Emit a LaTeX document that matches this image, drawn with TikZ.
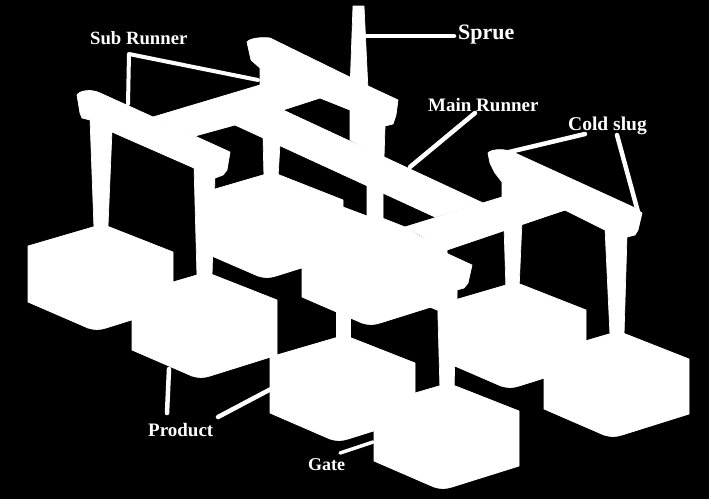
\documentclass[tikz,border=0pt]{standalone}
\usepackage{fontspec}
\setmainfont{Liberation Serif}
\tikzset{
  part/.style={fill=white,draw=white,line width=0.7pt,line join=round},
  leader/.style={draw=white,line width=4.5pt,line cap=round},
  lab/.style={text=white,anchor=base west,inner sep=0pt,font=\bfseries\fontsize{#1}{#1}\selectfont},
}
\newcommand{\prodblock}[2]{%
  \path[part,shift={(#1,#2)}] (0,-56) -- (65,-75) .. controls (72,-77) and (78,-77) .. (84,-74) -- (145,-50) -- (145,5) -- (78,26) .. controls (72,28) and (66,28) .. (60,26) -- (0,0) -- cycle;}
\begin{document}
\begin{tikzpicture}[x=1pt,y=-1pt]
\fill[black] (0,0) rectangle (709,499);
\useasboundingbox (0,0) rectangle (709,499);
% product blocks
\prodblock{28}{302}
\prodblock{132}{350}
\prodblock{198}{250}
\prodblock{302}{297}
\prodblock{270}{413}
\prodblock{374}{461}
\prodblock{441}{360}
\prodblock{544}{409}
% sprue
\path[part] (353,6) -- (364,6) -- (368,90) -- (350,90) -- cycle;
% upper sub runner
\path[part] (247,42) .. controls (250,38) and (262,37) .. (270,38) -- (368,86) -- (398,100) -- (396,115) -- (393,124) -- (385,126) -- (384,158) -- (350,140) -- (350,110) -- (320,98) -- (283,110) -- (260,85) -- (260,68) -- (251,60) -- cycle;
% left sub runner
\path[part] (77,95) .. controls (80,90) and (92,89) .. (100,93) -- (153,117) -- (230,152) -- (227,170) -- (223,175) -- (215,178) -- (194,168) -- (112,132) -- (90,120) -- (82,118) -- (80,113) -- cycle;
% cross bars and main runner
\path[part] (153,117) -- (260,85) -- (283,110) -- (235,125) -- (195,136) -- cycle;
\path[part] (235,125) -- (283,110) -- (483,203) -- (435,217) -- cycle;
\path[part] (405,227) -- (502,197) -- (565,210) -- (447,250) -- cycle;
% front sub runner
\path[part] (343,207) -- (367,216) -- (367,225) -- (448,254) -- (472,265) -- (468,283) -- (464,288) -- (457,290) -- (457,305) -- (437,310) -- (343,270) -- cycle;
\path[part] (382,218) -- (405,227) -- (448,254) -- (382,240) -- cycle;
% right sub runner
\path[part] (488,153) .. controls (491,149) and (505,148) .. (515,153) -- (633,207) -- (642,213) -- (638,230) -- (635,235) -- (627,237) -- (605,230) -- (565,210) -- (525,222) -- (502,197) -- (502,182) -- (495,173) -- (490,163) -- cycle;
% gates
\path[part] (90,118) -- (112,130) -- (108,226) -- (94,228) -- cycle;
\path[part] (194,165) -- (215,175) -- (212,276) -- (197,276) -- cycle;
\path[part] (263,135) -- (280,143) -- (278,178) -- (264,178) -- cycle;
\path[part] (367,180) -- (383,190) -- (383,225) -- (367,225) -- cycle;
\path[part] (336,290) -- (350,290) -- (350,340) -- (336,340) -- cycle;
\path[part] (437,280) -- (457,280) -- (454,390) -- (440,390) -- cycle;
\path[part] (504,225) -- (522,220) -- (519,290) -- (506,290) -- cycle;
\path[part] (605,228) -- (627,235) -- (624,335) -- (610,335) -- cycle;
% labels
\node[lab=22] (sprue) at (458,39) {Sprue};
\node[lab=18.7] (subrunner) at (90,44) {Sub Runner};
\node[lab=19] (mainrunner) at (428,111) {Main Runner};
\node[lab=19.5] (coldslug) at (568,130) {Cold slug};
\node[lab=19] (product) at (148,436) {Product};
\node[lab=18] (gate) at (308,470) {Gate};
% leader end points
\coordinate (sprueL) at (454,36);
\coordinate (sprueR) at (366,36);
\coordinate (subA) at (128,104);
\coordinate (subB) at (129,54);
\coordinate (subC) at (258,80);
\coordinate (mainA) at (475,113);
\coordinate (mainB) at (410,167);
\coordinate (coldA) at (585,134);
\coordinate (coldB) at (505,153);
\coordinate (coldC) at (617,135);
\coordinate (coldD) at (638,212);
\coordinate (prodA) at (169,369);
\coordinate (prodB) at (167,413);
\coordinate (prodC) at (218,417);
\coordinate (prodD) at (271,389);
\coordinate (gateA) at (340,453);
\coordinate (gateB) at (373,442);
% leaders
\draw[leader] (sprueL) -- (sprueR);
\draw[leader,line width=4pt,line join=round] (subA) -- (subB) -- (subC);
\draw[leader] (mainA) -- (mainB);
\draw[leader] (coldA) -- (coldB);
\draw[leader] (coldC) -- (coldD);
\draw[leader] (prodA) -- (prodB);
\draw[leader] (prodC) -- (prodD);
\draw[leader,line width=3.5pt] (gateA) -- (gateB);
\end{tikzpicture}
\end{document}
